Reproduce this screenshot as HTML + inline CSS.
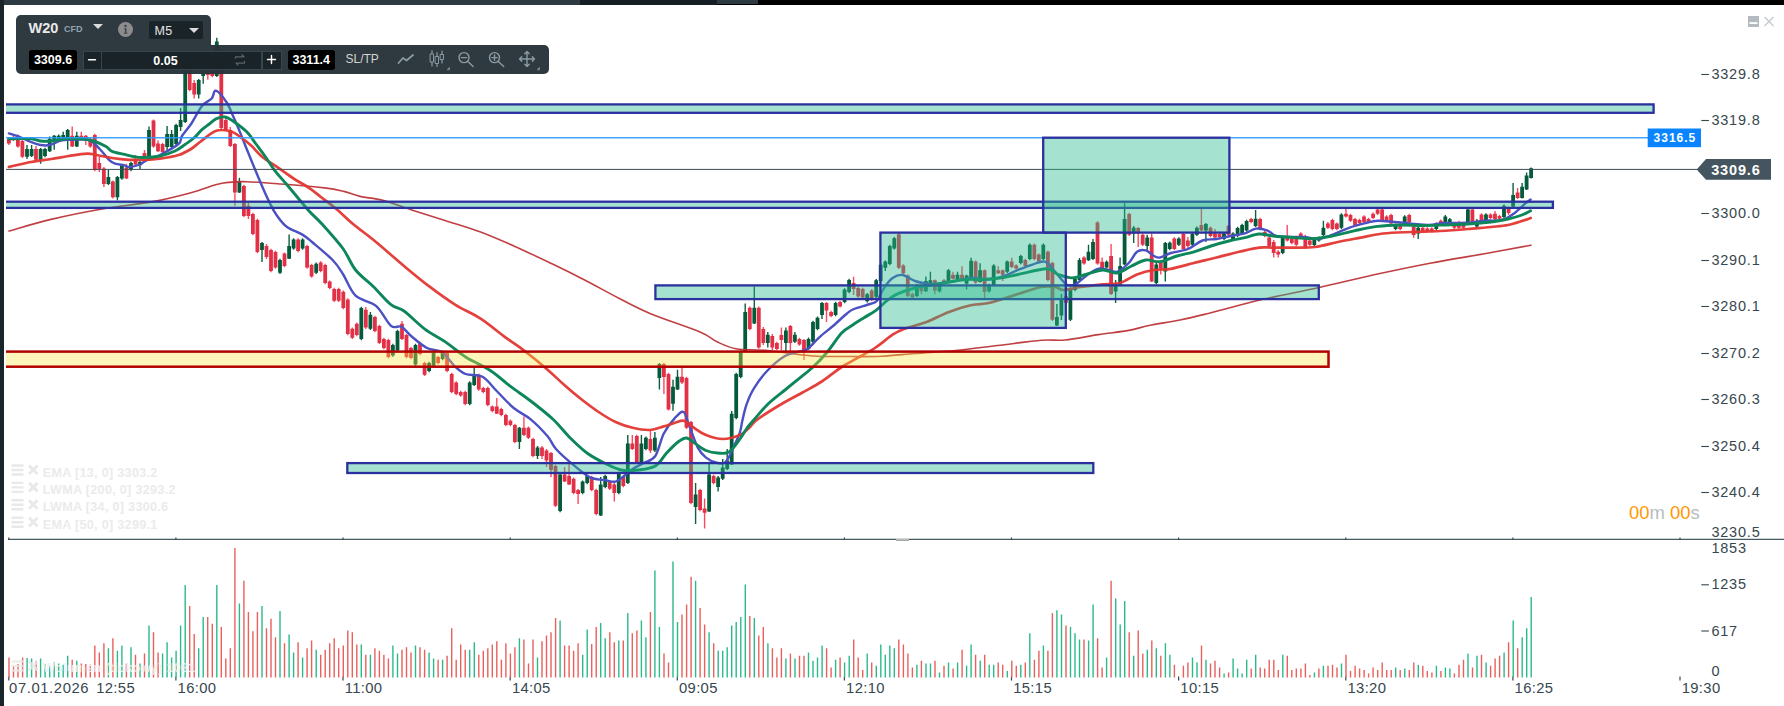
<!DOCTYPE html>
<html><head><meta charset="utf-8"><title>W20 CFD M5</title>
<style>
html,body{margin:0;padding:0;background:#fff;}
body{width:1784px;height:706px;position:relative;overflow:hidden;font-family:"Liberation Sans",sans-serif;}
svg text{font-family:"Liberation Sans",sans-serif;}
.ax{font-size:14.5px;fill:#37474f;letter-spacing:0.8px;}
.tx{font-size:14.8px;fill:#37474f;letter-spacing:0.35px;}
.tx0{font-size:14.8px;fill:#37474f;letter-spacing:0.6px;}
.lb1{font-size:12px;font-weight:bold;fill:#fff;letter-spacing:1px;}
.lb2{font-size:14.5px;font-weight:bold;fill:#fff;letter-spacing:0.85px;}
.abs{position:absolute;}
#topbar{left:0;top:0;width:1784px;height:5px;background:#000;}
#tb1{left:0;top:0;width:580px;height:5px;background:#2d3a42;}
#tb2{left:580px;top:0;width:137px;height:5px;background:#151e23;}
#tb3{left:717px;top:0;width:41px;height:4px;background:#2d3a42;}
#leftbar{left:0;top:0;width:4px;height:706px;background:#1a252b;}
.panel{background:rgba(40,51,58,0.97);}
#p1{left:16px;top:15px;width:195px;height:30px;border-radius:5px 5px 0 0;}
#p2{left:16px;top:45px;width:533px;height:29px;border-radius:0 5px 5px 5px;}
#sym{left:28.5px;top:19.6px;font-size:14.5px;font-weight:bold;color:#e9e9e9;line-height:17px;}
#cfd{left:64px;top:23.5px;font-size:9px;font-weight:bold;color:#8fa3b0;line-height:11px;}
.tri{width:0;height:0;border-left:5px solid transparent;border-right:5px solid transparent;border-top:5.5px solid #dcdcdc;}
#info{left:118px;top:22px;width:15px;height:15px;border-radius:50%;background:#8c8c8c;}
#m5box{left:148.5px;top:21px;width:54px;height:18px;background:#1a2328;border-radius:2px;}
#m5{left:154.5px;top:23.5px;font-size:12.5px;color:#e4e4e4;line-height:14px;letter-spacing:0.3px;}
.pbox{background:#000;border-radius:3px;color:#fff;font-weight:bold;font-size:12.5px;line-height:20px;text-align:center;height:20px;top:50px;}
.dbox{background:#1a2328;border:1px solid #38454d;box-sizing:border-box;top:50.5px;height:19px;color:#fff;}
#sltp{left:345.5px;top:52px;font-size:12px;color:#d4d4d4;line-height:14px;}
.lg{position:absolute;left:42.8px;font-size:12.6px;font-weight:bold;color:#ebebeb;line-height:14px;white-space:nowrap;letter-spacing:0.3px;}
#timer{left:1629px;top:502px;font-size:18.4px;line-height:22px;color:#b5bcc0;white-space:nowrap;}
#timer b{font-weight:normal;color:#ff9800;}
</style></head><body>
<svg width="1784" height="706" viewBox="0 0 1784 706" style="position:absolute;left:0;top:0">
<defs><clipPath id="cp"><rect x="6" y="5" width="1700" height="534"/></clipPath></defs>
<g clip-path="url(#cp)">
<path d="M8.9 137V145M13.4 136V141M17.9 134.5V147.8M22.4 139.8V157.9M36 146V160M72.2 126.4V147M81.3 131.8V140M85.8 135V145M90.3 137.6V147.8M94.8 133.8V171.2M99.3 156.7V172M103.9 167V187M112.9 180.4V198.4M126.4 163.7V179M135.5 155V165M144.5 150V158M153.5 119.4V147.8M158 140.4V152M162.6 142.8V153.2M189.7 60.8V91.2M194.2 80V98.5M207.8 64V79.8M212.3 66.8V77.2M221.3 48.8V129.2M225.8 118V131M230.3 127V147M234.9 143V205.8M243.9 184.8V217.2M248.4 203V219M252.9 212.8V235.2M257.4 218.8V253.2M266.5 244V259M271 248.8V272.2M275.5 250.8V268.8M284.5 252.4V267.2M298.1 238.3V252.2M307.1 244.8V268.8M311.6 263.8V277.7M320.7 261.3V272.2M325.2 263.8V284.2M329.7 280.4V289.2M334.2 287.8V302M338.7 287.8V302M343.3 290.6V309.2M347.8 298.3V335.2M352.3 327.6V339M356.8 322.5V336.2M365.8 307V329M374.9 315.8V332.2M379.4 324.8V344.1M383.9 337.8V349.2M388.4 338.8V358.2M402 321V340M406.5 333.8V358.2M411 346.8V359.2M420 341.7V355.2M424.6 361.8V375.9M438.1 355.8V364.2M447.1 351.8V372.2M451.7 372.8V393.2M456.2 381.3V395.2M460.7 390.8V396.7M465.2 390.8V405.2M478.8 373.8V390.8M483.3 386.8V393.2M487.8 386.8V406.2M492.3 405.4V412.2M496.8 398V414M501.3 407.8V416.2M505.9 413.8V426.2M510.4 419.5V426.2M514.9 423.8V443.2M523.9 416.5V436M528.4 426.6V438.9M533 437.8V457.2M542 446V459M546.5 449V467M551 452V477M555.5 464.8V506.9M564.6 467V482M569.1 463V485M573.6 477.6V494.2M578.1 489V504M591.7 475.8V491.2M596.2 488.8V515.2M609.7 480.4V489.9M614.3 483V501.5M623.3 475.8V487.2M632.3 435V450M636.8 434.8V463.2M650.4 430.6V453M663.9 363V394M668.5 372.8V410.6M682 367V384M686.5 376.8V429M691 420.8V504.2M700.1 488.8V511.2M704.6 498.6V528.4M713.6 474.8V484.2M749.8 306.6V330.2M758.8 306.6V348.7M763.3 327V345M772.3 334V350.3M776.9 341.8V350.2M781.4 327.6V350.3M790.4 325V353M799.4 337.8V345.8M804 339V360M826.5 302V322M831.1 310.8V317.2M840.1 300.8V307.6M853.6 276.7V295M858.2 286.8V297.7M862.7 287.7V298.6M871.7 289V301M898.8 233.1V269M903.3 264.3V274.5M907.8 274.4V297.1M912.4 293.1V298.6M921.4 286.5V294.3M934.9 279.5V294.3M944 279.1V284.6M953 271.7V279.5M962 266.3V279.5M975.6 260.4V283.8M984.6 269.4V298.2M998.2 266.3V274M1002.7 269.4V281M1011.7 257.7V268M1016.2 264.3V269.8M1025.3 258.8V267.2M1034.3 243.5V260.2M1038.8 253.4V262.9M1047.9 250.6V281.2M1052.4 261.8V321M1065.9 294.8V304.2M1084 256.3V264.7M1097.5 221.3V264.7M1102.1 257.5V270M1111.1 244V295M1129.2 212.8V236M1138.2 227V247M1142.7 233.6V245.9M1151.7 233.4V282M1160.8 260V274.5M1174.3 237.3V250.2M1183.4 232.8V250.2M1187.9 237V249M1201.4 207V231M1210.5 226.5V237.2M1215 229V238.5M1219.5 232.8V238.2M1228.5 224.8V236M1251.1 217.8V223.2M1260.1 217.8V230.2M1264.7 230.8V237.2M1269.2 236.4V247.2M1273.7 240V257.5M1278.2 250V257.5M1287.2 225V241.5M1291.8 237.8V244.2M1296.3 237.8V246M1300.8 232.3V238.9M1305.3 234.8V248.8M1309.8 239.4V246M1327.9 222V229M1332.4 218.8V230.2M1336.9 222.4V230.2M1346 208V217.5M1350.5 213.8V221.9M1355 217.8V226.2M1359.5 218.8V224.2M1364 215.3V223.2M1368.5 217.8V223.2M1373.1 212.5V219.2M1377.6 208.2V214.9M1382.1 208.2V221.9M1386.6 215.3V221.9M1391.1 213.8V224.8M1400.2 223.8V230.2M1409.2 213.8V223.2M1413.7 225V237.7M1422.7 226.6V232.4M1427.3 227.2V232.4M1431.8 227.2V232.4M1440.8 219.5V224.8M1454.4 222.4V229M1458.9 220.7V229M1463.4 223.8V229M1472.4 208.2V223.2M1481.5 213.3V223.2M1490.5 213.3V219.2M1495 211V220M1499.5 214.8V220M1508.6 206.6V215M1517.6 188V199" stroke="#fb4a60" stroke-width="1.4" fill="none"/><path d="M8.9 138.8v4.7M13.4 137v2.5M17.9 135.7v10.9M22.4 141v15.7M36 149v10.8M72.2 135.7v10.9M81.3 135.7v3.1M85.8 135.7v3.9M90.3 138.8v7.8M94.8 135v35M99.3 163v6M103.9 168.4v15.6M112.9 181.6v15.6M126.4 167.6v10.9M135.5 159.8v4.7M144.5 153v3M153.5 120.6v26M158 143.5v7.8M162.6 144v8M189.7 62v28M194.2 83v11.6M207.8 66v9M212.3 68v8M221.3 50v78M225.8 120v10M230.3 130v16M234.9 144v48.6M243.9 186v30M248.4 205.8v10.2M252.9 214v20M257.4 220v32M266.5 246v11M271 250v21M275.5 252v15.6M284.5 253.6v12.4M298.1 239.5v11.5M307.1 246v21.6M311.6 265v11.5M320.7 262.5v8.5M325.2 265v18M329.7 281.6v6.4M334.2 289v11.8M338.7 289v11.8M343.3 291.8v16.2M347.8 299.5v34.5M352.3 328.8v9M356.8 323.7v11.3M365.8 309.7v17.9M374.9 317v14M379.4 326v16.9M383.9 339v9M388.4 340v17M402 323.7v15.3M406.5 335v22M411 348v10M420 342.9v11.1M424.6 363v11.7M438.1 357v6M447.1 353v18M451.7 374v18M456.2 382.5v11.5M460.7 392v3.5M465.2 392v12M478.8 375v14.6M483.3 388v4M487.8 388v17M492.3 406.6v4.4M496.8 406.6v7.1M501.3 409v6M505.9 415v10M510.4 420.7v4.3M514.9 425v17M523.9 427.8v7.2M528.4 427.8v9.9M533 439v17M542 447.6v8.4M546.5 450.5v9.9M551 453v17M555.5 466v39.7M564.6 474.6v7M569.1 476v8.5M573.6 478.8v14.2M578.1 490v4M591.7 477v13M596.2 490v24M609.7 481.6v7.1M614.3 484.5v8.5M623.3 477v9M632.3 443.4v5.6M636.8 436v26M650.4 439v11.5M663.9 364v13M668.5 374v35.4M682 376.8v5.7M686.5 378v49.8M691 422v81M700.1 490v20M704.6 508.5v4.3M713.6 476v7M749.8 307.8v21.2M758.8 307.8v39.7M763.3 329v14M772.3 336v11.5M776.9 343v6M781.4 335v5M790.4 326v17M799.4 339v5.6M804 340v11.7M826.5 303v7.6M831.1 312v4M840.1 302v4.4M853.6 283v6M858.2 288v8.5M862.7 288.9v8.5M871.7 290.4v7.8M898.8 234.3v33.5M903.3 265.5v7.8M907.8 275.6v20.3M912.4 294.3v3.1M921.4 287.3v3.9M934.9 280.3v10.1M944 280.3v3.1M953 274.8v3.9M962 274.8v3.9M975.6 261.6v21M984.6 270.2v21.8M998.2 270.2v3.1M1002.7 270.2v4.6M1011.7 261.6v5.4M1016.2 265.5v3.1M1025.3 260v6M1034.3 244.7v14.3M1038.8 254.6v7.1M1047.9 251.8v28.2M1052.4 263v56.8M1065.9 296v7M1084 257.5v6M1097.5 222.5v41M1102.1 261.7v7.1M1111.1 256v38M1129.2 214v20.8M1138.2 228v5.4M1142.7 234.8v9.9M1151.7 237.6v44M1160.8 261.7v7.1M1174.3 238.5v10.5M1183.4 234v15M1187.9 240.5v5.5M1201.4 225v5.6M1210.5 227.7v8.3M1215 233.4v4.2M1219.5 234v3M1228.5 226v8.8M1251.1 219v3M1260.1 219v10M1264.7 232v4M1269.2 237.6v8.4M1273.7 242v11M1278.2 251.8v2.8M1287.2 236v4.5M1291.8 239v4M1296.3 239v5.8M1300.8 233.5v4.2M1305.3 236v11.6M1309.8 240.6v4.2M1327.9 223.6v4.2M1332.4 220v9M1336.9 223.6v5.4M1346 213.7v2.8M1350.5 215v5.7M1355 219v6M1359.5 220v3M1364 216.5v5.5M1368.5 219v3M1373.1 213.7v4.3M1377.6 209.4v4.3M1382.1 209.4v11.3M1386.6 216.5v4.2M1391.1 215v8.6M1400.2 225v4M1409.2 215v7M1413.7 226.4v8.6M1422.7 227.8v3.4M1427.3 228.4v2.8M1431.8 228.4v2.8M1440.8 220.7v2.9M1454.4 223.6v4.2M1458.9 225v2.8M1463.4 225v2.8M1472.4 209.4v12.6M1481.5 214.5v7.5M1490.5 214.5v3.5M1495 213.7v5.6M1499.5 216v2.8M1508.6 208v5M1517.6 192.4v5.6" stroke="#e23046" stroke-width="3.8" fill="none"/><path d="M27 145V159M31.6 145V157M40.6 148V163.7M45 147.8V157.2M49.7 136.5V152M54.2 135V149.7M58.7 134.5V140.8M63.2 131.8V140M67.7 129V149.7M76.8 131.8V147M108.4 170V185M117.4 176V200.3M121.9 164.1V179.7M131 161.8V171.2M140 161V169M149 126.4V157M167.1 126V150M171.6 130V148M176.1 123.8V145.2M180.6 108V131M185.2 58V123M198.7 79V98.5M203.2 64V83.7M216.8 37.8V77M239.4 177.8V193M262 242V262M280 258.8V273.9M289.1 234.4V259M293.6 238.3V249.7M302.6 238.3V249.7M316.2 262.6V273.9M361.3 306.8V340.2M370.4 312V330M392.9 343.8V356.8M397.5 329.8V351.7M415.5 343.8V365.7M429.1 361.8V372.2M433.6 351.8V367M442.6 350.6V360.2M469.7 381.3V405.2M474.2 367V386M519.4 427V449M537.5 446V459M560.1 473.4V512.2M582.6 480.4V494.2M587.2 474.8V484.2M600.7 477V516M605.2 474.8V488.2M618.8 471.8V494.2M627.8 435V484M641.4 435V463M645.9 436.5V450.2M654.9 432V452M659.4 363V389.6M673 379.7V410.8M677.5 369.7V390M695.6 483V524M709.1 461.8V512M718.1 476V491.5M722.7 459V480M727.2 449V470M731.7 411V465M736.2 372.8V419.2M740.7 350.5V378.2M745.2 303.6V352M754.3 286.6V324M767.8 332V347.5M785.9 327.6V351.7M794.9 332V343M808.5 337.6V350M813 320.8V343M817.5 316.5V330.2M822 302V319M835.6 301.8V316.2M844.6 288.2V303.2M849.1 278.8V293.2M867.2 293.1V302.5M876.2 279.1V297.9M880.7 263.5V282.2M885.3 260.5V271M889.8 244.8V265.2M894.3 237V249.6M916.9 283.8V297.1M925.9 276.4V292M930.4 271.7V285M939.5 282.2V292.4M948.5 269V283.1M957.5 271.7V280.3M966.6 274.8V289.6M971.1 257.7V279.5M980.1 263.2V282.6M989.1 283.8V292.4M993.7 264.3V286.2M1007.2 260.4V272.9M1020.8 254.8V264.2M1029.8 243.5V260.2M1043.3 243.5V260.2M1056.9 304V326M1061.4 294V320M1070.4 287.4V321M1075 277.5V291.2M1079.5 258V281M1088.5 244.7V261M1093 239V260M1106.6 260.5V268.6M1115.6 280V303M1120.1 257.5V285M1124.6 203V265M1133.7 226V243M1147.2 234.8V251.8M1156.3 263V284.4M1165.3 242V281.6M1169.8 241.5V250.2M1178.8 237.3V245.9M1192.4 232.8V245.9M1196.9 226.5V236M1205.9 223V242M1224 232.2V240.2M1233 232.2V240.2M1237.6 226.8V237.2M1242.1 223.8V234.6M1246.6 219.8V231.8M1255.6 210V227M1282.7 236.5V254.2M1314.3 237.8V246.2M1318.9 236.5V241.8M1323.4 220.7V236M1341.4 213.3V229M1395.6 223.8V230.2M1404.7 215.3V226.2M1418.2 226.4V239M1436.3 222.4V230.2M1445.3 215V224M1449.8 218.1V224.8M1467.9 208.2V223.2M1476.9 219V228.5M1486 213.3V221.9M1504 204.5V218.2M1513.1 183V207M1522.1 183V198.5M1526.6 172.6V190M1531.1 167.5V178.5" stroke="#0a6040" stroke-width="1.4" fill="none"/><path d="M27 149v7.7M31.6 149v7M40.6 149v10.8M45 149v7M49.7 138.8v12.5M54.2 135.7v5.3M58.7 135.7v3.9M63.2 135v3.8M67.7 130v8.8M76.8 135.7v10.9M108.4 177v7M117.4 177v20.2M121.9 165.3v13.2M131 163v7M140 162v3.3M149 130v26.7M167.1 134v13M171.6 134v13M176.1 125v19M180.6 120v7M185.2 62v60M198.7 80v14.6M203.2 66v10M216.8 41.5v34.5M239.4 181v11.6M262 243v7M280 260v12.7M289.1 246v12.7M293.6 239.5v9M302.6 239.5v9M316.2 263.8v8.9M361.3 308v31M370.4 314.8v14M392.9 345v10.6M397.5 331v19.5M415.5 345v19.5M429.1 363v8M433.6 353v12.8M442.6 351.8v7.2M469.7 382.5v21.5M474.2 374v11M519.4 427.8v14.2M537.5 447.6v8.4M560.1 474.6v36.4M582.6 481.6v11.4M587.2 476v7M600.7 484.5v31.1M605.2 476v11M618.8 473v20M627.8 443.4v39.6M641.4 443.4v18.6M645.9 437.7v11.3M654.9 437.7v12.8M659.4 364v14M673 386.7v17M677.5 376.8v12.8M695.6 494.4v12.6M709.1 474.6v36.8M718.1 477.4v9.6M722.7 467.5v11.3M727.2 460.4v8.6M731.7 413.7v50.9M736.2 374v44M740.7 351.7v25.3M745.2 312v39.7M754.3 307.8v15.6M767.8 334.7v8.3M785.9 330.5v12.5M794.9 334.7v7.1M808.5 339v10M813 322v19.8M817.5 317.7v11.3M822 303v12M835.6 303v12M844.6 289.4v12.6M849.1 280v12M867.2 294.3v7M876.2 280.3v16.4M880.7 264.7v16.3M885.3 261.6v6.2M889.8 246v18M894.3 238.2v10.2M916.9 285v10.9M925.9 281v10.2M930.4 280.3v3.9M939.5 283.4v7.8M948.5 270.2v11.7M957.5 274.8v4.7M966.6 275.6v7.8M971.1 260.8v17.9M980.1 270.2v11.7M989.1 285v6.2M993.7 265.5v19.5M1007.2 261.6v10.1M1020.8 256v7M1029.8 244.7v14.3M1043.3 244.7v14.3M1056.9 317v8.5M1061.4 300v15.6M1070.4 288.6v31.2M1075 278.7v11.3M1079.5 260v20M1088.5 251.8v8.5M1093 242v17M1106.6 261.7v5.7M1115.6 285.8v5.7M1120.1 266v18.4M1124.6 219v45.6M1133.7 227.7v5.7M1147.2 237.6v8.4M1156.3 264.6v18.4M1165.3 243v28.6M1169.8 242.7v6.3M1178.8 238.5v6.2M1192.4 234v10.7M1196.9 227.7v7.1M1205.9 224v6.6M1224 233.4v5.6M1233 233.4v5.6M1237.6 228v8M1242.1 225v8.4M1246.6 221v9.6M1255.6 218.7v7.3M1282.7 237.7v15.3M1314.3 239v6M1318.9 237.7v2.9M1323.4 227.8v7.2M1341.4 214.5v13.3M1395.6 225v4M1404.7 216.5v8.5M1418.2 227.8v5.7M1436.3 223.6v5.4M1445.3 216.5v7.1M1449.8 219.3v4.3M1467.9 209.4v12.6M1476.9 220.7v5.7M1486 214.5v6.2M1504 205.7v11.3M1513.1 195v11.6M1522.1 186.7v11.3M1526.6 175.4v14.2M1531.1 168.3v9.7" stroke="#055a3b" stroke-width="3.8" fill="none"/>
<path d="M9 231C16 229.1 35.5 223.1 51 219.4C66.5 215.7 85 212 102 209C119 206 138.2 204.3 153 201.6C167.8 198.9 180.6 195.5 191 192.7C201.4 189.9 209.4 186.5 215.6 184.8C221.8 183.1 222.8 182.9 228 182.4C233.2 181.9 237.9 181.4 246.7 181.7C255.5 182 268 183 281 184C294 185 314.1 186.7 324.6 187.9C335.1 189.1 338.1 190 344 191.4C349.9 192.8 353.6 194.9 360 196.4C366.4 197.9 374.1 198 382.7 200.3C391.3 202.6 401.3 206.7 411.7 210C422.1 213.3 433.5 216.8 445 220.4C456.5 224.1 469.1 227.7 480.6 231.9C492.1 236.2 501.9 240.6 513.8 245.9C525.7 251.2 540.5 258.3 552 263.8C563.5 269.3 571.6 273.3 582.7 279C593.8 284.7 607.2 292.2 618.4 298C629.6 303.8 636.4 307.8 650 313.5C663.6 319.2 688.8 327.3 700 332C711.2 336.7 710.9 339 717 341.8C723.1 344.6 728.8 347.6 736.8 349C744.8 350.4 752.3 349.1 765 350.3C777.7 351.5 799.3 355 813 356C826.7 357 835.7 356.4 847 356.5C858.3 356.6 869.7 356.8 881 356.3C892.3 355.8 902.5 354.5 915 353.5C927.5 352.5 941.9 351.8 955.7 350.5C969.5 349.2 983.4 347.2 997.7 345.5C1012 343.8 1030.2 341.1 1041.4 340.2C1052.6 339.3 1055.5 340.9 1065 340C1074.5 339.1 1087.9 336.2 1098.6 334.6C1109.2 333 1120.5 331.9 1128.9 330.4C1137.3 328.9 1140.5 327.2 1149 325.5C1157.5 323.8 1170.5 321.9 1180 320C1189.5 318.1 1192.3 317.4 1206 314C1219.7 310.6 1243.3 303.9 1262 299.5C1280.7 295.1 1299.3 291.9 1318 287.8C1336.7 283.7 1355.3 278.9 1374 274.8C1392.7 270.7 1411.3 266.8 1430 263.2C1448.7 259.6 1469.2 256.5 1486 253.5C1502.8 250.5 1523.5 246.6 1531 245.2" stroke="#bd3538" stroke-width="1.6" fill="none" stroke-linejoin="round" stroke-linecap="round" opacity="0.95"/>
<path d="M8.9 133.4C10.8 134 16.3 135.6 20 137C23.7 138.4 27.6 140.7 31 142C34.4 143.3 37.3 144.5 40.5 145C43.7 145.5 46.4 145.8 50 145C53.6 144.2 57.3 141.3 62 140.4C66.7 139.5 73.3 139.6 78 139.6C82.7 139.6 86.4 138.8 90 140.4C93.6 142 96.5 145.8 99.7 149C102.9 152.2 106.5 157.4 109 159.8C111.5 162.2 112.4 162.8 115 163.7C117.6 164.6 122.3 164.8 124.6 165.3C126.9 165.9 126.4 167.1 129 167C131.6 166.9 137.2 165.6 140 164.5C142.8 163.4 142.7 162.2 146 160.6C149.3 159 154.6 157.8 160 155C165.4 152.2 174.8 147.2 178.5 144C182.2 140.8 179.8 139.4 182 136C184.2 132.6 188.1 128.5 191.4 123.5C194.7 118.5 198.6 110.2 202 106C205.4 101.8 209.4 101 211.7 98.5C214 96 213.4 90 216 90.7C218.6 91.5 224.1 98.6 227 103C229.9 107.4 231.2 111.9 233.5 117C235.8 122.1 238.3 128.1 240.5 133.4C242.7 138.7 244.6 143.8 246.7 149C248.8 154.2 250.4 158.3 253 164.5C255.6 170.7 259.2 179.5 262 186C264.8 192.5 267.6 198.7 270 203.5C272.4 208.3 273.7 211.1 276.5 215C279.3 218.9 282.4 223.6 286.7 226.8C290.9 230 297.8 231.9 302 234.4C306.2 236.9 306.9 237.7 312 242C317.1 246.3 327.5 254.7 332.6 260C337.8 265.3 339.1 268.1 342.9 274C346.7 279.9 350.1 290.4 355.6 295.7C361.1 301 370.1 300.9 376 305.9C381.9 310.9 386.8 322.3 391 325.8C395.2 329.3 398.1 325 401.5 326.8C404.9 328.6 407.4 333 411.7 336.5C415.9 340 421.9 345.4 427 348C432.1 350.6 437.5 349.1 442 352C446.5 354.9 450.1 361.8 454 365.5C457.9 369.2 460.8 372.1 465.5 374C470.2 375.9 477.3 374 482.5 376.8C487.7 379.6 491.5 385.8 496.7 391C501.9 396.2 508 403.3 513.7 408C519.4 412.7 525.1 414.6 530.7 419.3C536.4 424 543.4 431.4 547.6 436.3C551.8 441.2 551.8 444.3 556 449C560.2 453.7 567.3 459.9 573 464.6C578.7 469.3 584.8 474.8 590 477.4C595.2 480 600 479.3 604.3 480C608.6 480.7 612.3 482.3 615.6 481.6C618.9 480.9 621.2 478.1 624 476C626.8 473.9 629.3 471.1 632.6 468.9C635.9 466.7 640.2 465.1 644 463C647.8 460.9 652 460.9 655.3 456C658.6 451.1 660.5 439.9 663.8 433.5C667.1 427.1 671.7 421.5 675 417.9C678.3 414.3 681.3 410.8 683.6 412C685.9 413.2 686.6 419.1 689 425C691.4 430.9 695 442.2 697.8 447.6C700.6 453 702.7 455 706 457.6C709.3 460.2 714.3 462.3 717.6 463C720.9 463.7 723.2 464.8 726 461.8C728.8 458.8 732.3 449.8 734.6 444.8C736.9 439.8 738.7 436.1 740 432C741.3 427.9 741.4 424.7 742.5 420C743.6 415.3 744.8 409.2 746.7 404C748.6 398.8 750.2 394.3 753.8 388.6C757.3 382.9 762.8 375.4 768 370C773.2 364.6 779.8 359.1 785 356C790.2 352.9 795.2 352.9 799 351.7C802.8 350.5 804.3 351.4 807.6 349C810.9 346.6 814.8 341.4 819 337.6C823.2 333.8 828.3 330 833 326C837.7 322 843.5 316.3 847 313.5C850.5 310.7 850.2 310.6 854 309C857.8 307.4 866.2 305.4 870 304C873.8 302.6 874.7 303.4 877 300.7C879.3 298 881.4 291.8 884 288C886.6 284.2 889.5 280.2 892.6 278C895.7 275.8 898.8 274.5 902.5 275C906.2 275.5 911 279.6 915 281C919 282.4 922.8 283.2 926.6 283.7C930.4 284.1 933.3 284.1 938 283.7C942.7 283.2 949.3 281.9 955 281C960.7 280.1 966.3 278.2 972 278C977.7 277.8 983.7 279.8 989 279.5C994.3 279.2 999.2 277.6 1004 276C1008.8 274.4 1013.2 271.9 1018 270C1022.8 268.1 1028 266 1032.5 264.6C1037 263.2 1041.2 260.5 1045 261.7C1048.8 262.9 1051.4 267.8 1055 271.6C1058.6 275.4 1063.2 282.3 1066.5 284.4C1069.8 286.5 1071.8 285.8 1075 284.4C1078.2 283 1082.2 278.6 1086 276C1089.8 273.4 1093.8 269.8 1097.6 268.8C1101.4 267.8 1105.7 269.5 1109 270C1112.3 270.5 1114.2 272.8 1117.5 271.6C1120.8 270.4 1125.5 266.3 1128.8 263C1132 259.7 1134.2 253.9 1137 251.8C1139.8 249.7 1143 249.7 1145.8 250.4C1148.6 251.1 1151.6 254.8 1154 256C1156.4 257.2 1157.2 258 1160 257.5C1162.8 257 1166.3 254.4 1171 253C1175.7 251.6 1182.8 251.1 1188 249C1193.2 246.9 1197.7 242.2 1202.5 240.5C1207.3 238.8 1211.9 239.8 1216.6 239C1221.3 238.2 1226.1 236.9 1230.8 236C1235.5 235.1 1240.8 234.6 1245 233.4C1249.2 232.2 1252.2 229.1 1256 228.6C1259.8 228.1 1264.3 229.4 1267.6 230.6C1270.9 231.8 1272.3 234.9 1276 236C1279.7 237.1 1285.3 236.8 1290 237C1294.7 237.2 1299.3 236.7 1304 237C1308.7 237.3 1313.3 239.3 1318 239C1322.7 238.7 1326.8 236.9 1332 235C1337.2 233.1 1343.3 229.8 1349 227.8C1354.7 225.8 1361.2 224.2 1366 223C1370.8 221.8 1372.8 220.9 1377.6 220.7C1382.4 220.5 1388.9 221.5 1394.6 222C1400.3 222.5 1405.9 223.1 1411.6 223.6C1417.3 224.1 1422.9 225.1 1428.6 225C1434.3 224.9 1439 223.4 1445.6 223C1452.2 222.6 1461.4 223.1 1468 222.7C1474.6 222.3 1479.3 221.1 1485 220.7C1490.7 220.2 1497.2 221.2 1502 220C1506.8 218.8 1509.8 216.4 1513.6 213.7C1517.4 211 1522.2 206.1 1525 203.7C1527.8 201.3 1529.7 200.2 1530.6 199.5" stroke="#4b50c2" stroke-width="2.4" fill="none" stroke-linejoin="round" stroke-linecap="round" opacity="1"/>
<path d="M8.9 166.9C12.6 166.1 23.9 163.3 31 162C38.1 160.7 45.1 160 51.4 159C57.6 158 62.6 156.9 68.5 156C74.4 155.1 82.3 153.8 87 153.6C91.7 153.4 92.4 154.3 96.6 155C100.8 155.7 106.6 157.2 112 158C117.4 158.8 123.8 159.5 129 159.8C134.2 160.1 137.8 160 143 159.8C148.2 159.6 154.1 159.4 160 158.6C165.9 157.8 173.4 156.6 178.6 155C183.8 153.4 187.4 151.2 191 149C194.6 146.8 195.9 145 200 142C204.1 139 210.7 132.8 215.6 131C220.5 129.2 225.4 130 229.6 131C233.8 132 236.9 134.5 240.5 137C244.1 139.5 247.8 142.5 251.4 145.8C255 149.1 257.6 153.1 262 156.7C266.4 160.3 272.8 164 278 167.6C283.2 171.2 288.3 175.1 293.5 178.5C298.7 181.9 304.3 184.7 309 187.9C313.7 191.1 316.8 193.9 321.5 197.5C326.2 201.1 331.8 205.1 337 209.5C342.2 213.9 346.5 218.6 353 224C359.5 229.4 367.5 235 376 242C384.5 249 395.1 258.6 404 266C412.9 273.4 421.1 280.3 429.6 286.7C438.1 293.1 446.5 299.3 455 304.6C463.5 309.9 472.1 313.1 480.6 318.6C489.1 324.1 498.6 332.4 506 337.8C513.4 343.2 518.1 346 525 351.3C531.9 356.6 541 364 547.6 369.7C554.2 375.4 558.9 380.3 564.6 385.3C570.3 390.3 575.9 395.1 581.6 399.5C587.3 403.9 592.9 408.2 598.6 412C604.3 415.8 609.9 419.4 615.6 422C621.3 424.6 626.9 426.5 632.6 427.8C638.3 429.1 644.4 430.2 649.6 430C654.8 429.8 659.6 427.6 663.8 426.4C668 425.2 671.7 423.6 675 422.7C678.3 421.8 680.8 420.1 683.6 420.7C686.4 421.3 688.3 424 692 426.4C695.7 428.8 700.8 432.9 706 435C711.2 437.1 717.3 439 723 439C728.7 439 735.7 436.8 740 435C744.3 433.2 746.2 430.5 749 428C751.8 425.5 751.7 423.8 756.7 420C761.7 416.2 771.5 410 779 405.5C786.5 401 794.9 396.8 802 392.8C809.1 388.8 815.2 385.8 821.8 381.5C828.4 377.2 835.5 371 841.6 367C847.7 363 852.9 360.6 858.6 357.4C864.3 354.1 869.9 351.3 875.6 347.5C881.3 343.7 887.9 337.8 892.6 334.7C897.3 331.6 898.3 331.1 904 329C909.7 326.9 919.1 324.8 926.6 322C934.1 319.2 941.4 314.8 949 312C956.6 309.2 965.2 306.5 972 305C978.8 303.5 982.3 304.6 990 302.8C997.7 301 1009.5 296.6 1018 294C1026.5 291.4 1034.8 288.2 1041 287C1047.2 285.8 1051.2 286.5 1055 287C1058.8 287.5 1059.3 290 1063.6 290C1067.9 290 1074 287.9 1080.6 287C1087.2 286.1 1096.4 285.1 1103 284.4C1109.6 283.7 1114.3 284.6 1120 283C1125.7 281.4 1131.3 276.7 1137 274.5C1142.7 272.3 1148.3 270.9 1154 270C1159.7 269.1 1164.3 270 1171 268.8C1177.7 267.6 1186.4 264.9 1194 263C1201.6 261.1 1209.1 259.4 1216.6 257.5C1224.1 255.6 1231.9 253.5 1239 251.8C1246.1 250.2 1253.3 248.3 1259 247.6C1264.7 246.9 1267.4 247.6 1273 247.6C1278.6 247.6 1285.7 247.7 1292.7 247.6C1299.7 247.5 1307.5 247.9 1315 247C1322.5 246.1 1330.4 243.6 1338 242C1345.6 240.4 1353.1 239.1 1360.6 237.7C1368.1 236.3 1374.5 234.4 1383 233.5C1391.5 232.6 1402.1 232.4 1411.6 232C1421.1 231.6 1430.6 231.5 1440 231C1449.4 230.5 1459.5 229.7 1468 229C1476.5 228.3 1484.3 227.7 1491 227C1497.7 226.3 1502.8 226 1508 225C1513.2 224 1518.2 222.2 1522 221C1525.8 219.8 1529.2 218.5 1530.6 218" stroke="#e33631" stroke-width="2.7" fill="none" stroke-linejoin="round" stroke-linecap="round" opacity="0.95"/>
<path d="M8.9 138.8C12.6 138.8 25.7 138.4 31 138.8C36.3 139.2 37.1 140.6 40.5 141C43.9 141.4 47.2 141.4 51.4 141C55.5 140.6 60.5 139.2 65.4 138.8C70.3 138.4 76.3 138.4 81 138.8C85.7 139.2 89.3 139.7 93.5 141C97.7 142.3 102.9 144.9 106 146.6C109.1 148.3 108.9 150 112 151.3C115.1 152.6 120.9 153.5 124.6 154.4C128.3 155.3 130.9 156.2 134 156.7C137.1 157.2 138.7 157.6 143 157.5C147.3 157.4 154.7 157.1 160 156C165.3 154.9 170.8 152.9 175 151C179.2 149.1 181.8 146.8 185 144.5C188.2 142.2 191.7 140 194.5 137.5C197.3 135 199.4 132 202 129.7C204.6 127.4 207.7 125.3 210 123.5C212.3 121.7 213.5 119.9 216 118.8C218.5 117.7 222 116.5 225 117C228 117.5 230.4 119.2 234 121.7C237.6 124.2 243 128.1 246.7 131.8C250.4 135.5 252.9 139.8 256 144C259.1 148.2 262.3 152.2 265.4 156.7C268.5 161.1 271.2 166 274.8 170.7C278.4 175.4 282.9 179.9 287 184.8C291.1 189.7 296 195.6 299.7 200C303.4 204.4 305.3 207 309 211C312.7 215 316.4 217.8 322 224C327.6 230.2 337.3 240.8 342.9 248.5C348.5 256.2 350.5 263.6 355.6 270C360.7 276.4 367.6 280.9 373.5 286.7C379.4 292.5 385.9 300.6 391 304.6C396.1 308.7 398.4 307 404 311C409.6 315 417.7 323.7 424.5 328.8C431.3 333.9 439.1 337.6 445 341.6C450.9 345.6 456.2 350.2 460 353C463.8 355.8 462.8 355.4 468 358.4C473.2 361.4 483.9 366.3 491 371C498.1 375.7 504.2 381.7 510.8 386.7C517.4 391.7 523.7 395.6 530.7 401C537.7 406.4 546.5 413.2 553 419.3C559.5 425.4 564.3 432.1 570 437.7C575.7 443.3 581.3 448.8 587 453C592.7 457.2 598.6 460.2 604.3 463C610 465.8 615.4 468.8 621 470C626.6 471.2 632.3 470.7 638 470C643.7 469.3 650.5 468.8 655.3 466C660.1 463.2 662.8 457 666.6 453C670.4 449 674.7 444.5 678 442C681.3 439.5 683.7 437.8 686.5 438C689.3 438.2 691.8 441.3 695 443.4C698.2 445.5 702.2 448.9 706 450.5C709.8 452.1 713.8 452.8 717.6 453C721.4 453.2 725.3 454.3 729 452C732.7 449.7 737 443 740 439C743 435 744.7 431.2 747 428C749.3 424.8 750.3 424 753.8 420C757.3 416 762.8 409 768 404C773.2 399 779.8 394.2 785 390C790.2 385.8 794.3 382.4 799 378.6C803.7 374.8 808.2 371.5 813 367C817.8 362.5 822.7 357.4 827.5 351.7C832.3 346 837.4 337.5 841.6 333C845.9 328.5 849.3 327.4 853 324.8C856.7 322.2 860.2 320.1 864 317.7C867.8 315.3 871.8 313.4 875.6 310.6C879.4 307.8 883.3 303.5 887 300.7C890.7 297.9 893.3 295.7 898 293.6C902.7 291.5 909.3 289.4 915 288C920.7 286.6 926.3 286 932 285C937.7 284 943.3 282.9 949 282C954.7 281.1 960.3 279.9 966 279.5C971.7 279.1 977.3 279.8 983 279.5C988.7 279.2 994.2 278.8 1000 278C1005.8 277.2 1010.2 276 1018 274.5C1025.8 273 1040 268.8 1046.7 268.8C1053.4 268.8 1053.8 273 1058 274.5C1062.2 276 1067.3 277.9 1072 277.9C1076.7 277.9 1080.8 275.8 1086 274.5C1091.2 273.2 1097.8 270.2 1103 270C1108.2 269.8 1112.7 273.7 1117.5 273C1122.3 272.3 1126.9 268.2 1131.6 266C1136.3 263.8 1141.1 260.7 1145.8 260C1150.5 259.3 1154.8 262.4 1160 261.7C1165.2 261 1171.3 257.6 1177 256C1182.7 254.3 1188.3 253.5 1194 251.8C1199.7 250.1 1204.9 247.9 1211 246C1217.1 244.1 1225.1 241.9 1230.8 240.5C1236.5 239.1 1240.3 238.7 1245 237.6C1249.7 236.5 1254.3 234.3 1259 234C1263.7 233.7 1268.3 235.5 1273 236C1277.7 236.5 1280.4 236.6 1287 237C1293.6 237.4 1305 238.8 1312.5 238.6C1320 238.4 1324.9 237.3 1332 236C1339.1 234.7 1347.4 232.2 1355 230.6C1362.6 229 1370.1 227.3 1377.6 226.4C1385.1 225.5 1392.4 225.2 1400 225C1407.6 224.8 1415.4 225.5 1423 225.5C1430.6 225.5 1438.1 225.2 1445.6 225C1453.1 224.8 1460.4 224.5 1468 224C1475.6 223.5 1484.3 222.8 1491 222C1497.7 221.2 1502.8 220.2 1508 219C1513.2 217.8 1518.2 216.4 1522 215C1525.8 213.6 1529.2 211.5 1530.6 210.8" stroke="#0d875a" stroke-width="2.9" fill="none" stroke-linejoin="round" stroke-linecap="round" opacity="1"/>
<path d="M6 137.7H1648" stroke="#2f9bff" stroke-width="1.4" opacity="0.9"/>
<path d="M6 169.4H1700" stroke="#3d4b54" stroke-width="1"/>
<rect x="-8.8" y="104.4" width="1662.4" height="8.4" fill="rgba(40,185,140,0.42)" stroke="#2b309f" stroke-width="2.3"/>
<rect x="-8.8" y="201.7" width="1561.7" height="6.2" fill="rgba(40,185,140,0.42)" stroke="#2b309f" stroke-width="2.3"/>
<rect x="347.3" y="463.1" width="746" height="9.9" fill="rgba(40,185,140,0.42)" stroke="#2b309f" stroke-width="2.3"/>
<rect x="655.4" y="285.4" width="663.4" height="13.7" fill="rgba(40,185,140,0.42)" stroke="#2b309f" stroke-width="2.3"/>
<rect x="880.4" y="232.6" width="185.4" height="95.3" fill="rgba(40,185,140,0.42)" stroke="#2b309f" stroke-width="2.3"/>
<rect x="1043.2" y="137.7" width="186.2" height="94.9" fill="rgba(40,185,140,0.42)" stroke="#2b309f" stroke-width="2.3"/>
<rect x="-8.8" y="351.6" width="1337.3" height="15.1" fill="rgba(250,228,60,0.36)" stroke="#b30000" stroke-width="2.5"/>
</g>
<path d="M8 539.4H1784" stroke="#455a64" stroke-width="1.3"/>
<path d="M8.8 537.6v2M8.8 676.4v4M175.9 537.6v2M175.9 676.4v4M343 537.6v2M343 676.4v4M510.2 537.6v2M510.2 676.4v4M677.3 537.6v2M677.3 676.4v4M844.4 537.6v2M844.4 676.4v4M1011.5 537.6v2M1011.5 676.4v4M1178.6 537.6v2M1178.6 676.4v4M1345.8 537.6v2M1345.8 676.4v4M1512.9 537.6v2M1512.9 676.4v4M1680 537.6v2M1680 676.4v4" stroke="#37474f" stroke-width="1.2"/>
<path d="M9 677.6V657.4M13.5 677.6V665.8M18 677.6V664.1M22.6 677.6V657.4M36.1 677.6V660.8M72.2 677.6V659.8M81.3 677.6V663.5M85.8 677.6V664.1M90.3 677.6V664.8M94.8 677.6V645.6M99.3 677.6V652.4M103.9 677.6V643.3M112.9 677.6V638.2M126.4 677.6V663.5M135.5 677.6V654.7M144.5 677.6V653.4M153.5 677.6V632.2M158.1 677.6V652.4M189.7 677.6V606M194.2 677.6V633.9M207.7 677.6V617.1M212.3 677.6V623.8M221.3 677.6V627.1M225.8 677.6V658.4M230.3 677.6V648.3M234.9 677.6V548.1M243.9 677.6V580.7M248.4 677.6V612M252.9 677.6V631.2M257.4 677.6V612M266.5 677.6V628.2M271 677.6V618.7M275.5 677.6V637.2M284.5 677.6V643.3M298.1 677.6V642.3M307.1 677.6V648.3M311.6 677.6V640.6M320.7 677.6V654.7M325.2 677.6V649.7M329.7 677.6V643.3M334.2 677.6V638.2M338.7 677.6V648.3M343.3 677.6V645.6M347.8 677.6V630.5M352.3 677.6V632.2M356.8 677.6V644.6M365.8 677.6V654.7M374.9 677.6V648.3M379.4 677.6V650.7M383.9 677.6V654.7M388.4 677.6V658.4M402 677.6V649.7M406.5 677.6V647.3M411 677.6V652.4M420 677.6V647.3M424.6 677.6V649.7M438.1 677.6V659.8M447.1 677.6V655.7M451.7 677.6V628.2M456.2 677.6V659.8M460.7 677.6V644.6M465.2 677.6V649.7M478.8 677.6V654.7M483.3 677.6V650.7M487.8 677.6V648.3M492.3 677.6V644.6M496.8 677.6V641.3M501.4 677.6V659.8M505.9 677.6V643.3M510.4 677.6V653.4M514.9 677.6V647.3M523.9 677.6V639.6M528.5 677.6V663.5M533 677.6V639.6M542 677.6V641.3M546.5 677.6V635.6M551 677.6V632.2M555.6 677.6V618.1M564.6 677.6V645.6M569.1 677.6V645.6M573.6 677.6V650.7M578.1 677.6V643.3M591.7 677.6V644M596.2 677.6V627.1M609.8 677.6V632.2M614.3 677.6V642.3M623.3 677.6V640.6M632.3 677.6V633.2M636.9 677.6V630.5M650.4 677.6V612M664 677.6V653.4M668.5 677.6V662.5M682 677.6V614.4M686.6 677.6V604.6M691.1 677.6V576.7M700.1 677.6V608M704.6 677.6V624.5M713.7 677.6V643.3M749.8 677.6V616M758.8 677.6V635.6M763.3 677.6V627.1M772.4 677.6V648.3M776.9 677.6V657.4M781.4 677.6V648.3M790.4 677.6V653.4M799.5 677.6V655.7M804 677.6V655.7M826.6 677.6V648.3M831.1 677.6V667.5M840.1 677.6V657.4M853.7 677.6V639.6M858.2 677.6V657.4M862.7 677.6V669.9M871.7 677.6V662.5M898.8 677.6V639.6M903.4 677.6V644.6M907.9 677.6V653.4M912.4 677.6V667.5M921.4 677.6V660.8M935 677.6V660.8M944 677.6V665.8M953.1 677.6V668.5M962.1 677.6V649.7M975.6 677.6V654.7M984.7 677.6V654.7M998.2 677.6V662.5M1002.7 677.6V664.8M1011.8 677.6V660.8M1016.3 677.6V665.8M1025.3 677.6V662.5M1034.4 677.6V659.8M1038.9 677.6V650.7M1047.9 677.6V650.7M1052.4 677.6V613M1066 677.6V625.5M1084 677.6V639.6M1097.6 677.6V638.2M1102.1 677.6V667.5M1111.1 677.6V580.7M1129.2 677.6V632.2M1138.2 677.6V630.5M1142.8 677.6V653.4M1151.8 677.6V640.6M1160.8 677.6V655.7M1174.4 677.6V664.8M1183.4 677.6V665.8M1187.9 677.6V662.5M1201.5 677.6V645.6M1210.5 677.6V663.5M1215 677.6V660.8M1219.6 677.6V667.5M1228.6 677.6V672.6M1251.2 677.6V668.5M1260.2 677.6V667.5M1264.7 677.6V668.5M1269.2 677.6V659.8M1273.8 677.6V659.8M1278.3 677.6V669.9M1287.3 677.6V655.7M1291.8 677.6V669.9M1296.3 677.6V668.5M1300.9 677.6V668.5M1305.4 677.6V663.5M1309.9 677.6V674.9M1318.9 677.6V668.5M1328 677.6V665.8M1332.5 677.6V664.8M1337 677.6V667.5M1346 677.6V654.7M1350.5 677.6V670.9M1355.1 677.6V665.8M1359.6 677.6V668.5M1364.1 677.6V669.9M1368.6 677.6V673.6M1373.1 677.6V667.5M1377.7 677.6V669.9M1382.2 677.6V662.5M1386.7 677.6V669.9M1391.2 677.6V669.9M1400.2 677.6V669.9M1409.3 677.6V669.9M1413.8 677.6V662.5M1422.8 677.6V665.8M1427.3 677.6V670.9M1431.9 677.6V672.6M1440.9 677.6V670.9M1454.4 677.6V673.6M1459 677.6V664.8M1463.5 677.6V659.8M1472.5 677.6V667.5M1481.5 677.6V654.7M1490.6 677.6V665.8M1495.1 677.6V658.4M1499.6 677.6V655.7M1508.6 677.6V642.3M1517.7 677.6V648.3" stroke="#e9605c" stroke-width="1.4" fill="none"/><path d="M27.1 677.6V658.1M31.6 677.6V658.4M40.6 677.6V658.4M45.1 677.6V664.1M49.7 677.6V665.8M54.2 677.6V662.5M58.7 677.6V663.5M63.2 677.6V664.8M67.7 677.6V655.7M76.8 677.6V660.8M108.4 677.6V648.3M117.4 677.6V650.7M121.9 677.6V645.6M131 677.6V647.3M140 677.6V663.5M149 677.6V625.5M162.6 677.6V653.4M167.1 677.6V642.3M171.6 677.6V657.4M176.1 677.6V650.7M180.6 677.6V625.5M185.2 677.6V585.1M198.7 677.6V648.3M203.2 677.6V617.1M216.8 677.6V585.1M239.4 677.6V603.6M262 677.6V606M280 677.6V611M289.1 677.6V634.5M293.6 677.6V652.4M302.6 677.6V657.4M316.2 677.6V649.7M361.3 677.6V644.6M370.4 677.6V654.7M392.9 677.6V645.6M397.5 677.6V653.4M415.5 677.6V645.6M429.1 677.6V652.4M433.6 677.6V658.4M442.6 677.6V659.8M469.7 677.6V649.7M474.3 677.6V642.3M519.4 677.6V638.2M537.5 677.6V657.4M560.1 677.6V620.4M582.7 677.6V654.7M587.2 677.6V629.5M600.7 677.6V623.1M605.2 677.6V638.2M618.8 677.6V640.6M627.8 677.6V613M641.4 677.6V620.4M645.9 677.6V637.2M654.9 677.6V570.6M659.4 677.6V627.1M673 677.6V561.6M677.5 677.6V622.1M695.6 677.6V580.7M709.1 677.6V632.2M718.2 677.6V650.7M722.7 677.6V650.7M727.2 677.6V647.3M731.7 677.6V625.5M736.2 677.6V622.1M740.8 677.6V617.1M745.3 677.6V584.4M754.3 677.6V618.1M767.9 677.6V643.3M785.9 677.6V658.4M795 677.6V658.4M808.5 677.6V652.4M813 677.6V660.8M817.5 677.6V657.4M822.1 677.6V645.6M835.6 677.6V659.8M844.6 677.6V662.5M849.2 677.6V655.7M867.2 677.6V653.4M876.3 677.6V665.8M880.8 677.6V644.6M885.3 677.6V654.7M889.8 677.6V645.6M894.3 677.6V648.3M916.9 677.6V664.8M926 677.6V663.5M930.5 677.6V663.5M939.5 677.6V672.6M948.5 677.6V662.5M957.6 677.6V662.5M966.6 677.6V665.8M971.1 677.6V644.6M980.2 677.6V660.8M989.2 677.6V664.8M993.7 677.6V664.8M1007.3 677.6V670.9M1020.8 677.6V664.8M1029.8 677.6V633.2M1043.4 677.6V645.6M1056.9 677.6V610.3M1061.5 677.6V614.4M1070.5 677.6V627.1M1075 677.6V633.2M1079.5 677.6V639.6M1088.6 677.6V640.6M1093.1 677.6V604.6M1106.6 677.6V657.4M1115.7 677.6V598.6M1120.2 677.6V624.5M1124.7 677.6V600.9M1133.7 677.6V655.7M1147.3 677.6V649.7M1156.3 677.6V648.3M1165.4 677.6V643.3M1169.9 677.6V654.7M1192.5 677.6V657.4M1197 677.6V662.5M1206 677.6V659.8M1224.1 677.6V673.6M1233.1 677.6V658.4M1237.6 677.6V668.5M1242.1 677.6V673.6M1246.7 677.6V659.8M1255.7 677.6V654.7M1282.8 677.6V654.7M1314.4 677.6V672.6M1323.4 677.6V665.8M1341.5 677.6V663.5M1395.7 677.6V667.5M1404.8 677.6V668.5M1418.3 677.6V664.8M1436.4 677.6V665.8M1445.4 677.6V667.5M1449.9 677.6V668.5M1468 677.6V653.4M1477 677.6V655.7M1486.1 677.6V662.5M1504.1 677.6V652.4M1513.2 677.6V620.4M1522.2 677.6V637.2M1526.7 677.6V628.2M1531.2 677.6V596.9" stroke="#2cba8c" stroke-width="1.4" fill="none"/>
<path d="M1701.3 74.5h7.6" stroke="#37474f" stroke-width="1.1"/>
<text x="1711.4" y="78.9" class="ax">3329.8</text>
<path d="M1701.3 120.5h7.6" stroke="#37474f" stroke-width="1.1"/>
<text x="1711.4" y="124.9" class="ax">3319.8</text>
<path d="M1701.3 213.5h7.6" stroke="#37474f" stroke-width="1.1"/>
<text x="1711.4" y="217.9" class="ax">3300.0</text>
<path d="M1701.3 260.5h7.6" stroke="#37474f" stroke-width="1.1"/>
<text x="1711.4" y="264.9" class="ax">3290.1</text>
<path d="M1701.3 306.5h7.6" stroke="#37474f" stroke-width="1.1"/>
<text x="1711.4" y="310.9" class="ax">3280.1</text>
<path d="M1701.3 353.5h7.6" stroke="#37474f" stroke-width="1.1"/>
<text x="1711.4" y="357.9" class="ax">3270.2</text>
<path d="M1701.3 399.5h7.6" stroke="#37474f" stroke-width="1.1"/>
<text x="1711.4" y="403.9" class="ax">3260.3</text>
<path d="M1701.3 446.5h7.6" stroke="#37474f" stroke-width="1.1"/>
<text x="1711.4" y="450.9" class="ax">3250.4</text>
<path d="M1701.3 492.5h7.6" stroke="#37474f" stroke-width="1.1"/>
<text x="1711.4" y="496.9" class="ax">3240.4</text>
<text x="1711.4" y="537.4" class="ax">3230.5</text>
<text x="1711.4" y="553" class="ax">1853</text>
<path d="M1701.3 584.8h7.6" stroke="#37474f" stroke-width="1.1"/>
<text x="1711.4" y="589.4" class="ax">1235</text>
<path d="M1701.3 631h7.6" stroke="#37474f" stroke-width="1.1"/>
<text x="1711.4" y="635.6" class="ax">617</text>
<text x="1711.4" y="675.5" class="ax">0</text>
<text x="9.1" y="693" class="tx0">07.01.2026</text>
<text x="177.6" y="693" class="tx">16:00</text>
<text x="344.7" y="693" class="tx">11:00</text>
<text x="511.9" y="693" class="tx">14:05</text>
<text x="679" y="693" class="tx">09:05</text>
<text x="846.1" y="693" class="tx">12:10</text>
<text x="1013.2" y="693" class="tx">15:15</text>
<text x="1180.3" y="693" class="tx">10:15</text>
<text x="1347.5" y="693" class="tx">13:20</text>
<text x="1514.6" y="693" class="tx">16:25</text>
<text x="1681.7" y="693" class="tx">19:30</text>
<text x="96.2" y="693" class="tx">12:55</text>
<rect x="1647.7" y="128.5" width="53.3" height="18.7" fill="#0a84ff"/>
<text x="1653.6" y="142.2" class="lb1">3316.5</text>
<path d="M1696.7 169.4L1706 159H1771V179.8H1706Z" fill="#455560"/>
<text x="1711.2" y="174.6" class="lb2">3309.6</text>
</svg><div class="abs" id="topbar"></div><div class="abs" id="tb1"></div><div class="abs" id="tb2"></div><div class="abs" id="tb3"></div>
<div class="abs" id="leftbar"></div>
<!-- window icons -->
<svg class="abs" style="left:1746px;top:14px" width="32" height="16" viewBox="0 0 32 16"><rect x="2" y="2" width="11" height="11" fill="#b3bbc0"/><rect x="3.5" y="8.2" width="8" height="1.8" fill="#fff"/><path d="M18.5 3l9 9M27.5 3l-9 9" stroke="#c3cacf" stroke-width="1.4" fill="none"/></svg>
<!-- legend -->
<div class="lg" style="top:465.5px">EMA [13, 0] 3303.2</div>
<div class="lg" style="top:482.8px">LWMA [200, 0] 3293.2</div>
<div class="lg" style="top:500.2px">LWMA [34, 0] 3300.6</div>
<div class="lg" style="top:517.6px">EMA [50, 0] 3299.1</div>
<svg class="abs" style="left:10px;top:462px" width="32" height="72" viewBox="0 0 32 72" fill="none" stroke="#e9e9e9"><g id="li"><path d="M1.5 3.5h12M1.5 8h12M1.5 12.5h12" stroke-width="2.4"/><path d="M19 3.5l8.5 8.5M27.5 3.5L19 12" stroke-width="3"/></g><use href="#li" y="17.4"/><use href="#li" y="34.8"/><use href="#li" y="52.2"/></svg>
<div class="lg" style="top:661px;left:43px;color:rgba(240,240,240,0.88)">Wolumen (tickowy) 1081</div>
<svg class="abs" style="left:10px;top:658px" width="32" height="20" viewBox="0 0 32 20" fill="none" stroke="#e9e9e9" opacity="0.8"><path d="M1.5 3.5h12M1.5 8h12M1.5 12.5h12" stroke-width="2.4"/><path d="M19 3.5l8.5 8.5M27.5 3.5L19 12" stroke-width="3"/></svg>
<div class="abs" id="timer"><b>00</b>m <b>00</b>s</div>
<!-- toolbar -->
<div class="abs panel" id="p1"></div><div class="abs panel" id="p2"></div>
<div class="abs" id="sym">W20</div><div class="abs" id="cfd">CFD</div>
<div class="abs tri" style="left:93px;top:24px"></div>
<div class="abs" id="info"></div>
<svg class="abs" style="left:118px;top:22px" width="15" height="15" viewBox="0 0 15 15"><circle cx="7.5" cy="4" r="1.2" fill="#39444b"/><path d="M6.2 6.3h2.2v4.4h1v1H5.8v-1h1.1V7.3H6.2z" fill="#39444b"/></svg>
<div class="abs" id="m5box"></div><div class="abs" id="m5">M5</div>
<div class="abs tri" style="left:189px;top:27.5px"></div>
<div class="abs pbox" style="left:29px;width:48px;">3309.6</div>
<div class="abs dbox" style="left:82.5px;width:19px;"></div>
<div class="abs dbox" style="left:101px;width:161px;text-align:center;font-weight:bold;font-size:12.5px;line-height:18px;"><span style="position:relative;left:-16px">0.05</span></div>
<div class="abs dbox" style="left:261.5px;width:20px;"></div>
<div class="abs pbox" style="left:287.5px;width:47.5px;">3311.4</div>
<div class="abs" id="sltp">SL/TP</div>
<svg class="abs" style="left:80px;top:46px" width="470" height="28" viewBox="80 46 470 28" fill="none" stroke-linecap="round" stroke-linejoin="round">
<path d="M88.5 59.8h7" stroke="#fff" stroke-width="1.4"/>
<path d="M267.5 59.5h8M271.5 55.5v8" stroke="#fff" stroke-width="1.4"/>
<g stroke="#56646c" stroke-width="1.3"><path d="M235.5 58.2v-1.4h8.5l-2-2M244.5 61.5v1.6H236l2 2"/></g>
<path d="M398.5 63l4.5-5 3.5 2.5 6.5-5.5" stroke="#8b9ba4" stroke-width="1.8"/>
<g stroke="#8b9ba4" stroke-width="1.2"><path d="M432 50.5v15.5M437 52.5v14M442 51v12"/><rect x="430.5" y="54" width="3" height="8" fill="#2d383f" stroke-width="1"/><rect x="435.5" y="56.5" width="3" height="7" fill="#2d383f" stroke-width="1"/><rect x="440.5" y="54.5" width="3" height="5" fill="#2d383f" stroke-width="1"/></g>
<path d="M449.5 69.5v-2.2l-2.2 2.2zM539.5 69.5v-2.2l-2.2 2.2z" fill="#8b9ba4" stroke="#8b9ba4" stroke-width="0.5"/>
<g stroke="#8b9ba4" stroke-width="1.4"><circle cx="464" cy="57.6" r="5"/><path d="M467.8 61.5l5.4 5M461.3 57.6h5.4"/><circle cx="494.5" cy="57.6" r="5"/><path d="M498.3 61.5l5.4 5M491.8 57.6h5.4M494.5 54.9v5.4"/></g>
<g stroke="#8b9ba4" stroke-width="1.4"><path d="M519.5 59h15M527 51.5v15M521.7 56.8l-2.2 2.2 2.2 2.2M532.3 56.8l2.2 2.2-2.2 2.2M524.8 53.7l2.2-2.2 2.2 2.2M524.8 64.3l2.2 2.2 2.2-2.2"/></g>
</svg>
<div class="abs" style="left:896px;top:538.7px;width:13px;height:2.2px;background:linear-gradient(#c6c6c6,#9c9c9c);"></div>
</body></html>
